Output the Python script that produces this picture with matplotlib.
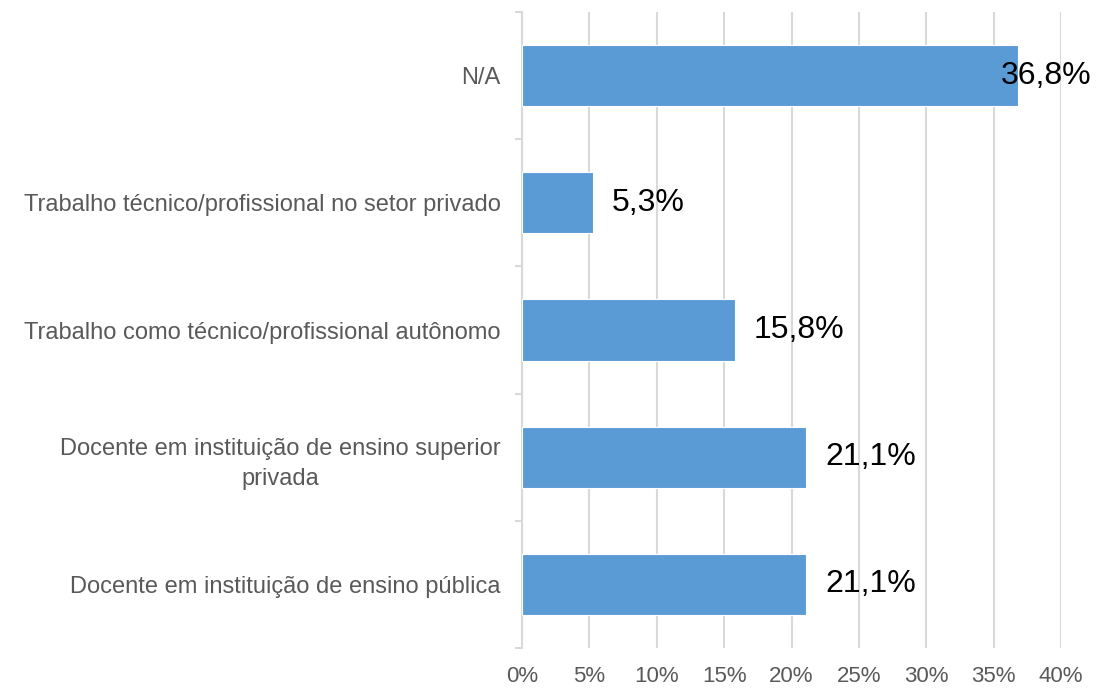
import matplotlib
matplotlib.use("Agg")
import matplotlib.pyplot as plt
from matplotlib.ticker import FixedLocator, NullFormatter

categories = [
    "Docente em instituição de ensino pública",
    "Docente em instituição de ensino superior\nprivada",
    "Trabalho como técnico/profissional autônomo",
    "Trabalho técnico/profissional no setor privado",
    "N/A",
]
values = [21.1, 21.1, 15.8, 5.3, 36.8]
value_labels = ["21,1%", "21,1%", "15,8%", "5,3%", "36,8%"]
xticks = [0, 5, 10, 15, 20, 25, 30, 35, 40]
xtick_labels = ["0%", "5%", "10%", "15%", "20%", "25%", "30%", "35%", "40%"]

plt.rcParams['font.family'] = ['Liberation Sans', 'DejaVu Sans']

W, H = 1096, 688
fig = plt.figure(figsize=(W / 100, H / 100), dpi=100)
ax = fig.add_axes([522 / W, 1 - 648 / H, (1061 - 522) / W, (648 - 12) / H])

bar_color = "#5B9BD5"
grid_color = "#D9D9D9"
text_gray = "#595959"

y = list(range(len(categories)))
ax.barh(y, values, height=0.48, color=bar_color, edgecolor="white", linewidth=0.8, zorder=3)

ax.set_xlim(0, 40)
ax.set_ylim(-0.5, len(categories) - 0.5)

ax.set_xticks(xticks)
ax.set_xticklabels(xtick_labels, fontsize=16, color=text_gray)
ax.tick_params(axis="x", length=0, pad=13)
ax.grid(axis="x", color=grid_color, linewidth=1.5, zorder=0)

ax.set_yticks(y)
ax.set_yticklabels(categories, fontsize=17, color=text_gray, multialignment="center",
                   linespacing=1.5)
ax.tick_params(axis="y", which="major", length=0, pad=15.5)
ax.yaxis.set_minor_locator(FixedLocator([i - 0.5 for i in range(len(categories) + 1)]))
ax.yaxis.set_minor_formatter(NullFormatter())
ax.tick_params(axis="y", which="minor", length=5, width=1.5, color=grid_color, direction="out")

for s in ["top", "right", "bottom"]:
    ax.spines[s].set_visible(False)
ax.spines["left"].set_color(grid_color)
ax.spines["left"].set_linewidth(1.5)

for yi, v, lab in zip(y, values, value_labels):
    if v > 33:
        ax.annotate(lab, xy=(1091 / W, yi), xycoords=("figure fraction", "data"),
                    ha="right", va="center", fontsize=23, color="black", zorder=5)
    else:
        ax.annotate(lab, xy=(v, yi), xytext=(13.5, 0), textcoords="offset points",
                    ha="left", va="center", fontsize=23, color="black", zorder=5)

fig.savefig("out.png", dpi=100, facecolor="white")
